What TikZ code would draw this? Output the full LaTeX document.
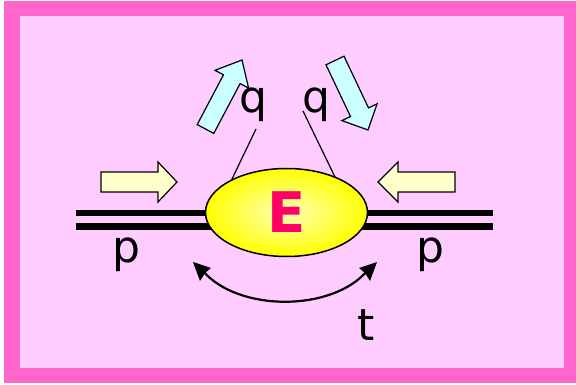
\documentclass[tikz,border=0pt]{standalone}
\usepackage{fontspec}
\setmainfont{DejaVu Sans}
\usetikzlibrary{arrows.meta,shapes.geometric}
\definecolor{framepink}{HTML}{FF66CC}
\definecolor{bgpink}{HTML}{FFCCFF}
\definecolor{cream}{HTML}{FFFFCC}
\definecolor{aqua}{HTML}{CCFFFF}
\definecolor{Ered}{HTML}{FF0066}
\definecolor{yelcore}{HTML}{FFFFB8}
\definecolor{yelrim}{HTML}{FFFF00}
\tikzset{
  letter/.style={font=\fontsize{44}{44}\selectfont, inner sep=0pt, anchor=base},
  rail/.style={line width=6.5pt},
  stick/.style={line width=1.2pt},
  blockarrow/.style={draw=black, line width=1.2pt, line join=miter},
  swing/.style={line width=2.2pt},
  tiphead/.style={fill=black, draw=none},
}
\begin{document}
\begin{tikzpicture}[x=1pt,y=-1pt]
\useasboundingbox (0,0) rectangle (576,385);
\fill[white] (0,0) rectangle (576,385);
\fill[framepink] (4,1) rectangle (576,383);
\fill[bgpink] (20,16) rectangle (564,368);

% rails
\coordinate (r1a) at (76,213);
\coordinate (r1b) at (493,213);
\coordinate (r2a) at (76,226.5);
\coordinate (r2b) at (493,226.5);
\draw[rail] (r1a) -- (r1b);
\draw[rail] (r2a) -- (r2b);

% vertex
\node[ellipse, draw=black, line width=1.5pt, inner color=yelcore, outer color=yelrim,
      minimum width=162pt, minimum height=88pt, inner sep=0pt,
      text=Ered, font=\fontsize{56}{56}\selectfont\bfseries] (E) at (286.5,212.5) {E};

% yellow block arrows
\draw[blockarrow, fill=cream] (101,172) -- (158,172) -- (158,162) -- (177,182) -- (158,202) -- (158,192) -- (101,192) -- cycle;
\draw[blockarrow, fill=cream] (455,172) -- (398,172) -- (398,162) -- (378,182) -- (398,202) -- (398,192) -- (455,192) -- cycle;

% cyan block arrows
\draw[blockarrow, fill=aqua] (197.2,124.6) -- (223.5,74.8) -- (215,70.3) -- (242,60) -- (248.6,88.1) -- (240.1,83.6) -- (213.8,133.4) -- cycle;
\draw[blockarrow, fill=aqua] (344,56.2) -- (368.5,107.9) -- (377.1,103.8) -- (368,130) -- (341.9,120.6) -- (350.5,116.5) -- (326,64.8) -- cycle;

% labels
\node[letter] (q1) at (253,113) {q};
\node[letter] (q2) at (316,113) {q};
\node[letter] (p1) at (126,262) {p};
\node[letter] (p2) at (430,262) {p};
\node[letter] (t) at (366,340) {t};

% sticks from q to vertex
\coordinate (s1) at (256,129);
\coordinate (e1) at (232,179);
\coordinate (s2) at (303,111);
\coordinate (e2) at (335,177);
\draw[stick] (s1) -- (e1);
\draw[stick] (s2) -- (e2);

% swing arrow
\coordinate (w1) at (203,271);
\coordinate (w2) at (367,271);
\draw[swing] (w1) .. controls (238,312) and (332,312) .. (w2);
% arrow heads
\fill[tiphead] (193,262) -- (211,268) -- (205,273) -- (200,281) -- cycle;
\fill[tiphead] (377,262) -- (359,268) -- (365,273) -- (370,281) -- cycle;
\end{tikzpicture}
\end{document}
